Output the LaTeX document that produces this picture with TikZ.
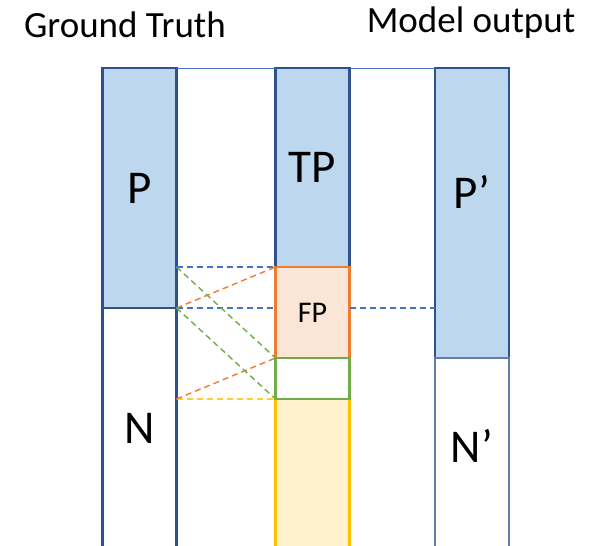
\documentclass[tikz,border=0pt]{standalone}
\usepackage{fontspec}
\setmainfont{Carlito}
\usetikzlibrary{positioning}
\definecolor{boxBlue}{RGB}{47,82,143}
\definecolor{lineBlue}{RGB}{68,114,196}
\definecolor{fillBlue}{RGB}{189,215,238}
\definecolor{fpOrange}{RGB}{237,125,49}
\definecolor{fpFill}{RGB}{251,229,214}
\definecolor{tnGreen}{RGB}{112,173,71}
\definecolor{tnYellow}{RGB}{255,192,0}
\definecolor{tnFill}{RGB}{255,242,204}
\tikzset{
  col/.style={draw=boxBlue,line width=2.4pt,inner sep=0pt,outer sep=0pt,
              minimum width=74pt,font=\fontsize{47}{56}\selectfont},
  seg/.style={line width=2.4pt,inner sep=0pt,outer sep=0pt,minimum width=74pt},
  ttl/.style={font=\fontsize{37}{44}\selectfont},
  dsh/.style={dashed,dash pattern=on 6pt off 4pt,line width=1.4pt},
}

\begin{document}
\begin{tikzpicture}[x=1pt,y=-1pt]
  \useasboundingbox (0,0) rectangle (605,546);
  % titles
  \node[ttl] (gt) at (125,25) {Ground Truth};
  \node[ttl] (mo) at (471,23) {Model output};
  % ground truth column
  \node[col,fill=fillBlue,minimum height=240pt,anchor=north] (p) at (139.5,68) {P};
  \node[col,minimum height=240pt,below=0pt of p] (n) {N};
  % confusion column
  \node[col,fill=fillBlue,minimum height=199pt,anchor=north] (tp) at (312.5,68) {TP};
  \node[seg,draw=tnYellow,fill=tnFill,minimum height=150pt,anchor=north] (yl) at (312.5,399) {};
  \node[seg,draw=fpOrange,fill=fpFill,minimum height=91pt,below=0pt of tp,
        font=\fontsize{30}{36}\selectfont] (fp) {FP};
  \node[seg,draw=tnGreen,fill=white,minimum height=41pt,below=0pt of fp] (tn) {};
  % model output column
  \node[col,fill=fillBlue,minimum height=290pt,anchor=north,
        text depth=42pt] (pp) at (472,68) {P’};
  \node[col,draw=boxBlue!75,minimum height=190pt,below=0pt of pp,
        text depth=14pt] (np) {N’};
  % thin joins along the top
  \draw[lineBlue,line width=1pt] (p.north east) -- (tp.north west);
  \draw[lineBlue,line width=1pt] (tp.north east) -- (pp.north west);
  % helper points on the ground truth edge
  \coordinate (gtfp) at (p.east |- fp.north);
  \coordinate (gtyl) at (n.east |- yl.north);
  % same-level dashes
  \draw[dsh,lineBlue] (gtfp) -- (fp.north west);
  \draw[dsh,lineBlue] (p.south east) -- (fp.west |- p.south);
  \draw[dsh,lineBlue] (fp.east |- p.south) -- (pp.west |- p.south);
  \draw[dsh,tnYellow!80] (gtyl) -- (yl.north west);
  % crossing dashes
  \foreach \a/\b in {p.south east/fp.north west,gtyl/tn.north west}
    \draw[dsh,fpOrange] (\a) -- (\b);
  \foreach \a/\b in {gtfp/tn.north west,p.south east/tn.south west}
    \draw[dsh,tnGreen] (\a) -- (\b);
\end{tikzpicture}
\end{document}
